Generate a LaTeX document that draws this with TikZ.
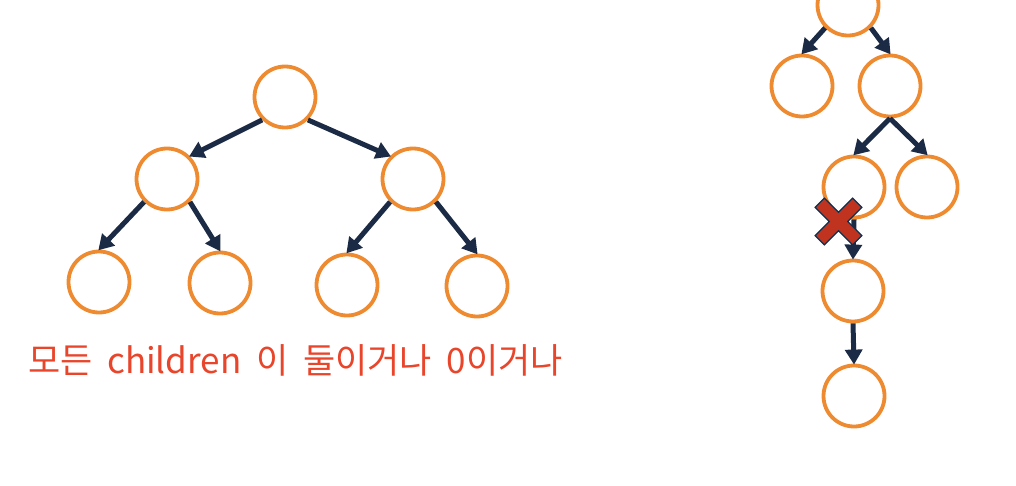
\documentclass[tikz,border=0pt]{standalone}
\usepackage{fontspec}
\newfontfamily\krfont{Noto Sans CJK KR}
\usepackage{xcolor}
\usetikzlibrary{arrows.meta}
\definecolor{nodeorange}{HTML}{EE8A30}
\definecolor{edgenavy}{HTML}{1C2B45}
\definecolor{xred}{HTML}{C0341F}
\definecolor{textred}{HTML}{E8452B}
\tikzset{>={Triangle[length=15pt,width=17pt]}}
\tikzset{treenode/.style={draw=nodeorange,line width=3.8pt,circle,minimum size=61pt,inner sep=0pt}}
\tikzset{treeedge/.style={->,draw=edgenavy,line width=5pt,shorten >=-1pt}}

\begin{document}
\begin{tikzpicture}[x=1pt,y=-1pt]
	\useasboundingbox (0,0) rectangle (1016,486);
	\clip (0,0) rectangle (1016,486);
	% full tree
	\node[treenode] (root) at (285,97) {};
	\node[treenode] (left) at (167,179) {};
	\node[treenode] (right) at (413,179) {};
	\node[treenode] (leftleft) at (99,282) {};
	\node[treenode] (leftright) at (220,283) {};
	\node[treenode] (rightleft) at (347,285) {};
	\node[treenode] (rightright) at (477,286) {};
	\draw[treeedge] (root.south west)--(left.north east);
	\draw[treeedge] (root.south east)--(right.north west);
	\draw[treeedge] (left.south west)--(leftleft.north);
	\draw[treeedge] (left.south east)--(leftright.north);
	\draw[treeedge] (right.south west)--(rightleft.north);
	\draw[treeedge] (right.south east)--(rightright.north);
	\node[anchor=west,text=textred,font=\krfont\fontsize{35pt}{37pt}\selectfont,inner sep=0pt] (caption) at (28,360) {\spaceskip=0.42em 모든 children 이 둘이거나 0이거나};
	% broken tree
	\node[treenode] (top) at (848,5) {};
	\node[treenode] (aleft) at (802,86) {};
	\node[treenode] (aright) at (890,86) {};
	\node[treenode] (bleft) at (854,187) {};
	\node[treenode] (bright) at (927,187) {};
	\node[treenode] (chain) at (853,291) {};
	\node[treenode] (chainend) at (854,396) {};
	\draw[treeedge] (top.south west)--(aleft.north);
	\draw[treeedge] (top.south east)--(aright.north);
	\draw[treeedge] (aright.south)--(bleft.north);
	\draw[treeedge] (aright.south)--(bright.north);
	\draw[treeedge] (bleft.south)--(chain.north);
	\draw[treeedge] (chain.south)--(chainend.north);
	% cross
	\coordinate (cross) at (838.5,221.5);
	\fill[black,opacity=0.25,shift={(1.5,2)},rotate around={45:(cross)}] (cross) ++(6.5,26.5) -- ++(0,-20) -- ++(20,0) -- ++(0,-13) -- ++(-20,0) -- ++(0,-20) -- ++(-13,0) -- ++(0,20) -- ++(-20,0) -- ++(0,13) -- ++(20,0) -- ++(0,20) -- cycle;
	\filldraw[fill=xred,draw=edgenavy,line width=1.2pt,rotate around={45:(cross)}] (cross) ++(6.5,26.5) -- ++(0,-20) -- ++(20,0) -- ++(0,-13) -- ++(-20,0) -- ++(0,-20) -- ++(-13,0) -- ++(0,20) -- ++(-20,0) -- ++(0,13) -- ++(20,0) -- ++(0,20) -- cycle;
\end{tikzpicture}
\end{document}
